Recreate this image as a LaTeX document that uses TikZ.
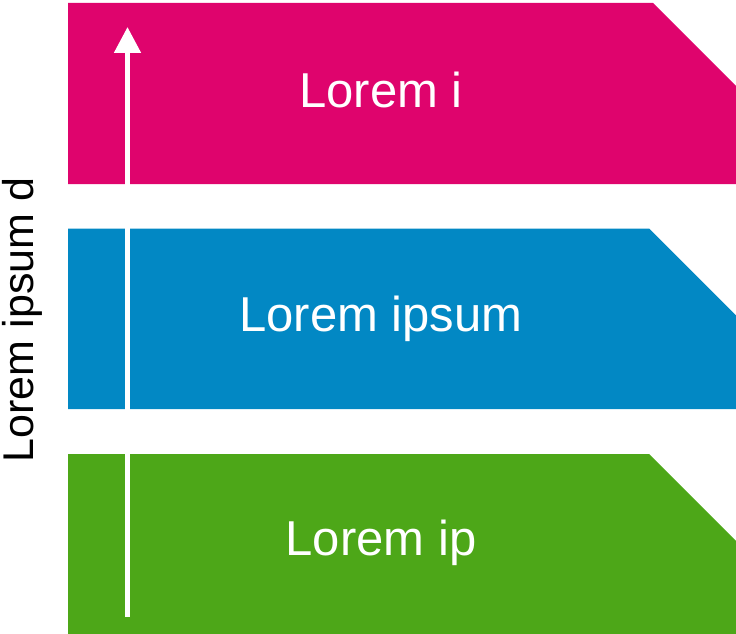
\documentclass[tikz,border=0pt]{standalone}
\usepackage{fontspec}
\setmainfont{Liberation Sans}
\usepackage{tikz}
\usetikzlibrary{arrows.meta}

\definecolor{bandpink}{HTML}{DF046D}
\definecolor{bandblue}{HTML}{0288C4}
\definecolor{bandgreen}{HTML}{4DA718}

\tikzset{
	bandtext/.style = {white, anchor=base, font=\fontsize{49}{55}\selectfont},
	sidetext/.style = {black, anchor=base, rotate=90, font=\fontsize{43}{50}\selectfont}
}

\begin{document}
\begin{tikzpicture}[x=1pt, y=-1pt]
			% Рамка рисунка
			\useasboundingbox (0,0) rectangle (736,634);
			
			% Верхняя полоса (срезанный угол справа)
			\fill[bandpink] (68,3) -- (653,3) -- (736,86) -- (736,184) -- (68,184) -- cycle;
			
			% Средняя полоса
			\fill[bandblue] (68,228.5) -- (649,228.5) -- (736,315.5) -- (736,409) -- (68,409) -- cycle;
			
			% Нижняя полоса
			\fill[bandgreen] (68,454) -- (649,454) -- (736,541) -- (736,634) -- (68,634) -- cycle;
			
			% Подписи полос
			\node[bandtext] (lblTop) at (381,107) {Lorem i};
			\node[bandtext] (lblMid) at (381,331) {Lorem ipsum};
			\node[bandtext] (lblLow) at (381,555) {Lorem ip};
			
			% Белая стрелка снизу вверх
			\coordinate (arrFrom) at (127.5,617);
			\coordinate (arrTo) at (127.5,27);
			\draw[white, line width=5pt, -{Triangle[length=26pt, width=26pt]}] (arrFrom) -- (arrTo);
			
			% Подпись оси слева
			\node[sidetext] (lblSide) at (33,320) {Lorem ipsum d};
		\end{tikzpicture}
\end{document}
